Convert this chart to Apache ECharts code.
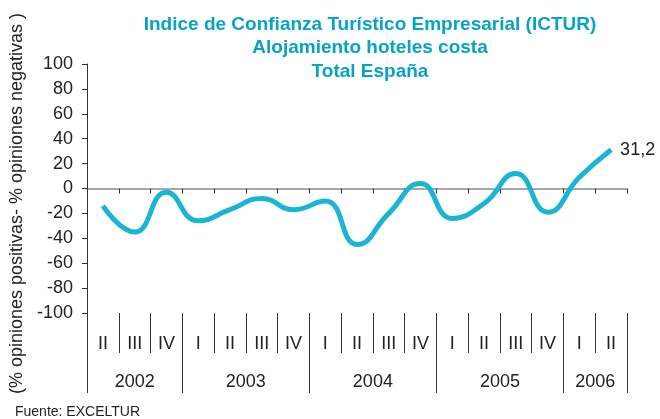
<!DOCTYPE html>
<html>
<head>
<meta charset="utf-8">
<script src="https://cdn.jsdelivr.net/npm/echarts@6/dist/echarts.min.js"></script>
<style>
html,body{margin:0;padding:0;background:#fff;}
#chart{width:660px;height:419px;}
</style>
</head>
<body>
<div id="chart"></div>
<script>
// ---- data ----
const quarters = ['II','III','IV','I','II','III','IV','I','II','III','IV','I','II','III','IV','I','II'];
const years = ['2002','2003','2004','2005','2006'];
const quartersPerYear = [3,4,4,4,2];
const values = [-14,-35,-3,-26,-17,-8,-17,-10,-45,-20,4,-24,-12,12,-19,9,31.2];
const yTicks = {min:-100, max:100, interval:20};
const titleLines = ['Indice de Confianza Turístico Empresarial (ICTUR)','Alojamiento hoteles costa','Total España'];
const yName = '(% opiniones positivas- % opiniones negativas )';
const source = 'Fuente: EXCELTUR';

// year boundaries / centers derived from counts
const bounds = [0];
quartersPerYear.forEach(c => bounds.push(bounds[bounds.length-1] + c));
const centers = years.map((y,i) => (bounds[i] + bounds[i+1]) / 2);

const FONT = '"Liberation Sans", Arial, Helvetica, sans-serif';
const chart = echarts.init(document.getElementById('chart'));
chart.setOption({
  animation:false,
  textStyle:{fontFamily:FONT},
  title:[{
    text: titleLines.join('\n'),
    left: 370, top: 13, textAlign:'center', padding:0,
    textStyle:{fontFamily:FONT, fontWeight:'bold', fontSize:19, color:'#07a2c8', lineHeight:23.5}
  },{
    text: source, left: 15, top: 405, padding:0,
    textStyle:{fontFamily:FONT, fontWeight:'normal', fontSize:14, color:'#222'}
  }],
  grid:{left:87, right:33, top:64, bottom:106},
  xAxis:[{
    type:'category', data:quarters, boundaryGap:true,
    axisLine:{onZero:true, lineStyle:{color:'#8a8a8a', width:1.5}},
    axisTick:{show:true, length:5, lineStyle:{color:'#333'}},
    axisLabel:{show:false}, splitLine:{show:false}
  },{
    type:'category', data:quarters, position:'bottom', boundaryGap:true,
    axisLine:{show:false, onZero:false},
    axisTick:{show:true, length:40, lineStyle:{color:'#333'}},
    axisLabel:{show:true, margin:22, fontSize:18, color:'#222', fontFamily:FONT},
    splitLine:{show:false}
  },{
    type:'value', min:0, max:quarters.length, position:'bottom',
    axisLine:{show:false, onZero:false},
    axisTick:{show:true, length:80, customValues:bounds, lineStyle:{color:'#333'}},
    axisLabel:{show:true, margin:60, fontSize:18, color:'#222', fontFamily:FONT,
      customValues:centers,
      formatter:function(v){ const i = centers.indexOf(v); return i>=0 ? years[i] : ''; }},
    splitLine:{show:false}
  }],
  yAxis:{
    type:'value', min:yTicks.min, max:yTicks.max, interval:yTicks.interval,
    name:yName, nameLocation:'middle', nameGap:60,
    nameTextStyle:{fontFamily:FONT, fontSize:18, color:'#222', padding:[0,30,0,0]},
    axisLine:{show:true, lineStyle:{color:'#333'}},
    axisTick:{show:true, length:5, lineStyle:{color:'#333'}},
    axisLabel:{fontSize:18, color:'#222', margin:14, fontFamily:FONT},
    splitLine:{show:false}
  },
  series:[{
    type:'line', xAxisIndex:0, data:values, smooth:true, symbol:'none',
    lineStyle:{color:'#1ab4d4', width:5},
    endLabel:{show:true, distance:9, fontSize:18, color:'#222', fontFamily:FONT,
      formatter:function(p){ return String(p.value).replace('.', ','); }}
  }]
});
</script>
</body>
</html>
